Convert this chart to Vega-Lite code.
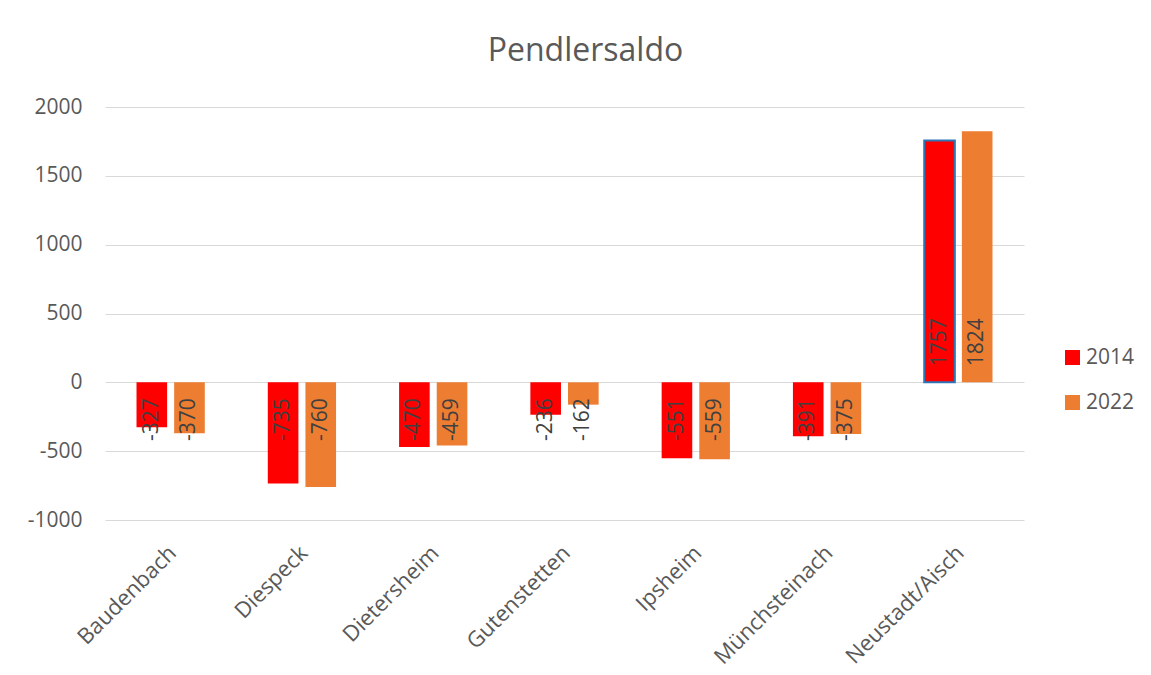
{
  "$schema": "https://vega.github.io/schema/vega-lite/v6.json",
  "width": 919,
  "height": 413,
  "autosize": {"type": "none"},
  "padding": {"left": 105, "top": 107, "right": 127, "bottom": 155},
  "background": "white",
  "config": {
    "view": {"stroke": null},
    "font": "Open Sans",
    "locale": {"number": {"decimal": ".", "thousands": ",", "grouping": [3], "currency": ["$", ""], "minus": "-"}}
  },
  "title": {
    "text": "Pendlersaldo",
    "fontSize": 32,
    "fontWeight": "normal",
    "color": "#595959",
    "font": "Open Sans",
    "anchor": "middle",
    "dx": 21,
    "offset": 3,
    "baseline": "alphabetic"
  },
  "data": {
    "values": [
      {"ort": "Baudenbach", "jahr": "2014", "wert": -327},
      {"ort": "Baudenbach", "jahr": "2022", "wert": -370},
      {"ort": "Diespeck", "jahr": "2014", "wert": -735},
      {"ort": "Diespeck", "jahr": "2022", "wert": -760},
      {"ort": "Dietersheim", "jahr": "2014", "wert": -470},
      {"ort": "Dietersheim", "jahr": "2022", "wert": -459},
      {"ort": "Gutenstetten", "jahr": "2014", "wert": -236},
      {"ort": "Gutenstetten", "jahr": "2022", "wert": -162},
      {"ort": "Ipsheim", "jahr": "2014", "wert": -551},
      {"ort": "Ipsheim", "jahr": "2022", "wert": -559},
      {"ort": "Münchsteinach", "jahr": "2014", "wert": -391},
      {"ort": "Münchsteinach", "jahr": "2022", "wert": -375},
      {"ort": "Neustadt/Aisch", "jahr": "2014", "wert": 1757},
      {"ort": "Neustadt/Aisch", "jahr": "2022", "wert": 1824}
    ]
  },
  "encoding": {
    "x": {
      "field": "ort",
      "type": "nominal",
      "sort": null,
      "scale": {"paddingInner": 0.48, "paddingOuter": 0.24},
      "axis": {
        "title": null,
        "labelAngle": -45,
        "labelAlign": "right",
        "labelBaseline": "top",
        "labelFontSize": 22,
        "labelColor": "#595959",
        "labelPadding": 22,
        "labelOffset": -5,
        "ticks": false,
        "domain": false,
        "grid": false
      }
    },
    "xOffset": {
      "field": "jahr",
      "type": "nominal",
      "scale": {"paddingInner": 0.187, "paddingOuter": 0}
    }
  },
  "layer": [
    {
      "mark": {"type": "bar", "strokeWidth": 2},
      "encoding": {
        "y": {
          "field": "wert",
          "type": "quantitative",
          "scale": {"domain": [-1000, 2000], "nice": false},
          "axis": {
            "title": null,
            "values": [-1000, -500, 0, 500, 1000, 1500, 2000],
            "format": "d",
            "labelFontSize": 21,
            "labelColor": "#595959",
            "labelPadding": 23,
            "ticks": false,
            "domain": false,
            "gridColor": "#D9D9D9",
            "gridWidth": 1
          }
        },
        "color": {
          "field": "jahr",
          "type": "nominal",
          "scale": {"domain": ["2014", "2022"], "range": ["#FF0000", "#ED7D31"]},
          "legend": {
            "title": null,
            "orient": "none",
            "legendX": 957,
            "legendY": 240,
            "symbolType": "square",
            "symbolSize": 225,
            "symbolStrokeWidth": 0,
            "labelFontSize": 21,
            "labelColor": "#595959",
            "labelOffset": 3,
            "rowPadding": 23
          }
        },
        "stroke": {
          "condition": {"test": "datum.ort === 'Neustadt/Aisch' && datum.jahr === '2014'", "value": "#2E75B6"},
          "value": null
        }
      }
    },
    {
      "transform": [{"filter": "datum.wert < 0"}],
      "mark": {"type": "text", "angle": 270, "align": "right", "baseline": "middle", "dx": -16, "fontSize": 21, "color": "#404040"},
      "encoding": {
        "y": {"datum": 0},
        "text": {"field": "wert", "type": "quantitative", "format": "d"}
      }
    },
    {
      "transform": [{"filter": "datum.wert >= 0"}],
      "mark": {"type": "text", "angle": 270, "align": "left", "baseline": "middle", "dx": 16, "fontSize": 21, "color": "#404040"},
      "encoding": {
        "y": {"datum": 0},
        "text": {"field": "wert", "type": "quantitative", "format": "d"}
      }
    }
  ]
}
